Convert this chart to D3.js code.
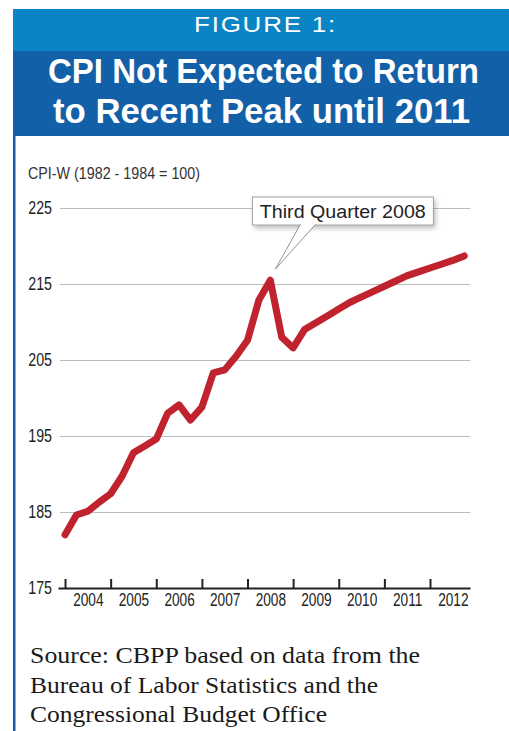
<!DOCTYPE html>
<html>
<head>
<meta charset="utf-8">
<script src="https://cdn.jsdelivr.net/npm/d3@7"></script>
<style>
  html, body { margin: 0; padding: 0; background: #fff; }
  svg { display: block; }
</style>
</head>
<body>
<svg id="chart" width="509" height="731"></svg>
<script>
// ---- Data ----
const titleTop = "FIGURE 1:";
const titleLines = ["CPI Not Expected to Return", "to Recent Peak until 2011"];
const yAxisTitle = "CPI-W (1982 - 1984 = 100)";
const years = [2004, 2005, 2006, 2007, 2008, 2009, 2010, 2011, 2012];
const quarters = ["Q1", "Q2", "Q3", "Q4"];
const cpiValues = [
  182.0, 184.6, 185.1, 186.3,   // 2004
  187.4, 189.7, 192.8, 193.7,   // 2005
  194.6, 198.0, 199.1, 197.1,   // 2006
  198.8, 203.3, 203.7, 205.5,   // 2007
  207.6, 212.9, 215.5, 208.0,   // 2008
  206.6, 209.0, 209.9, 210.8,   // 2009
  211.7, 212.6, 213.3, 214.0,   // 2010
  214.7, 215.4, 216.1, 216.6,   // 2011
  217.1, 217.6, 218.1, 218.7    // 2012
];
const yTicks = [175, 185, 195, 205, 215, 225];
const calloutText = "Third Quarter 2008";
const calloutIndex = 18; // 2008 Q3
const sourceLines = [
  "Source: CBPP based on data from the",
  "Bureau of Labor Statistics and the",
  "Congressional Budget Office"
];

// ---- Build series ----
const series = cpiValues.map((v, i) => ({
  t: years[0] + Math.floor(i / 4) + (i % 4) / 4,
  v: v
}));

const svg = d3.select("#chart");
const sans = "'Liberation Sans', Arial, sans-serif";
// condense a text element horizontally (no narrow font installed)
function condense(sel, factor) {
  sel.each(function () {
    const w = this.getComputedTextLength();
    d3.select(this).attr("textLength", w * factor).attr("lengthAdjust", "spacingAndGlyphs");
  });
}

// ---- Header ----
const hdr = svg.append("g");
hdr.append("rect").attr("x", 13).attr("y", 9).attr("width", 496).attr("height", 42).attr("fill", "#0a84c4");
hdr.append("rect").attr("x", 13).attr("y", 51).attr("width", 496).attr("height", 85).attr("fill", "#1260a7");
svg.append("rect").attr("x", 13).attr("y", 136).attr("width", 2.5).attr("height", 600).attr("fill", "#1260a7");

hdr.append("text").attr("x", 265.5).attr("y", 31.5).attr("text-anchor", "middle")
  .attr("fill", "#fff").attr("font-family", sans)
  .attr("font-size", 22).attr("letter-spacing", 1.5)
  .attr("textLength", 143).attr("lengthAdjust", "spacingAndGlyphs")
  .text(titleTop);
const tl = [{y: 83, w: 431, x: 263.5}, {y: 123, w: 417, x: 261.5}];
titleLines.forEach((s, i) => {
  hdr.append("text").attr("x", tl[i].x).attr("y", tl[i].y).attr("text-anchor", "middle")
    .attr("fill", "#fff").attr("font-family", sans)
    .attr("font-weight", "bold").attr("font-size", 35)
    .attr("textLength", tl[i].w).attr("lengthAdjust", "spacingAndGlyphs")
    .text(s);
});

// ---- Scales ----
const x = d3.scaleLinear().domain([2003.846, 2012.877]).range([58, 470]);
const y = d3.scaleLinear().domain([175, 225]).range([588, 208]);

// ---- Y axis / gridlines ----
const yAxis = svg.append("g").attr("transform", "translate(60,0)")
  .call(d3.axisLeft(y).tickValues(yTicks).tickSize(-410).tickPadding(8).tickFormat(d3.format("d")));
yAxis.select(".domain").remove();
yAxis.selectAll(".tick line").attr("stroke", "#bdbdbd").attr("stroke-width", 1.2);
yAxis.selectAll(".tick text").attr("font-family", sans).attr("font-size", 18).attr("fill", "#222")
  .call(condense, 0.79);

const yt = svg.append("text").attr("x", 28).attr("y", 179)
  .attr("font-family", sans).attr("font-size", 16.5).attr("fill", "#333")
  .text(yAxisTitle);
yt.attr("textLength", 172).attr("lengthAdjust", "spacingAndGlyphs");

// ---- X axis ----
const xAxis = svg.append("g").attr("transform", "translate(0,588)")
  .call(d3.axisBottom(x).tickValues(years).tickSizeInner(-9).tickSizeOuter(0).tickFormat(""));
xAxis.select(".domain").attr("stroke", "#222").attr("stroke-width", 2);
xAxis.selectAll(".tick line").attr("stroke", "#222").attr("stroke-width", 2);

const xLabels = svg.append("g").attr("transform", "translate(0,588)")
  .call(d3.axisBottom(x).tickValues(years.map(d => d + 0.5)).tickSize(0).tickPadding(6)
    .tickFormat(d => String(Math.floor(d))));
xLabels.select(".domain").remove();
xLabels.selectAll(".tick text").attr("font-family", sans).attr("font-size", 17.5).attr("fill", "#222")
  .call(condense, 0.78);

// ---- Line ----
const line = d3.line().x(d => x(d.t)).y(d => y(d.v));
svg.append("path").datum(series)
  .attr("d", line)
  .attr("fill", "none")
  .attr("stroke", "#c0222e")
  .attr("stroke-width", 7)
  .attr("stroke-linejoin", "round")
  .attr("stroke-linecap", "round");

// ---- Callout ----
const defs = svg.append("defs");
const f = defs.append("filter").attr("id", "shadow").attr("x", "-20%").attr("y", "-40%").attr("width", "150%").attr("height", "200%");
f.append("feDropShadow").attr("dx", 2).attr("dy", 3).attr("stdDeviation", 2.5).attr("flood-color", "#000").attr("flood-opacity", 0.25);

const peak = series[calloutIndex];
const px = x(peak.t), py = y(peak.v);
const boxW = 181, boxH = 28;
const boxX = px - 18, boxY = y(225) - 11;
const cg = svg.append("g");
cg.append("rect").attr("x", boxX).attr("y", boxY).attr("width", boxW).attr("height", boxH)
  .attr("fill", "#fff").attr("stroke", "#8a8a8a").attr("stroke-width", 0.8)
  .attr("filter", "url(#shadow)");
const tipX = px + 5, tipY = py - 11;
cg.append("path")
  .attr("d", `M${boxX + 48},${boxY + boxH - 0.5} L${tipX},${tipY} L${boxX + 63},${boxY + boxH - 0.5}`)
  .attr("fill", "#fff").attr("stroke", "#777").attr("stroke-width", 0.8);
cg.append("rect").attr("x", boxX + 48.5).attr("y", boxY + boxH - 2).attr("width", 14).attr("height", 2.2).attr("fill", "#fff");
cg.append("text").attr("x", boxX + boxW / 2).attr("y", boxY + 21).attr("text-anchor", "middle")
  .attr("font-family", sans).attr("font-size", 18.5).attr("fill", "#222")
  .attr("textLength", 166).attr("lengthAdjust", "spacingAndGlyphs")
  .text(calloutText);

// ---- Source ----
const srcW = [390, 348, 297];
sourceLines.forEach((s, i) => {
  svg.append("text").attr("x", 30).attr("y", 663 + i * 29.5)
    .attr("font-family", "'Liberation Serif', 'DejaVu Serif', serif")
    .attr("font-size", 24).attr("fill", "#1a1a1a")
    .attr("textLength", srcW[i]).attr("lengthAdjust", "spacingAndGlyphs")
    .text(s);
});
</script>
</body>
</html>
